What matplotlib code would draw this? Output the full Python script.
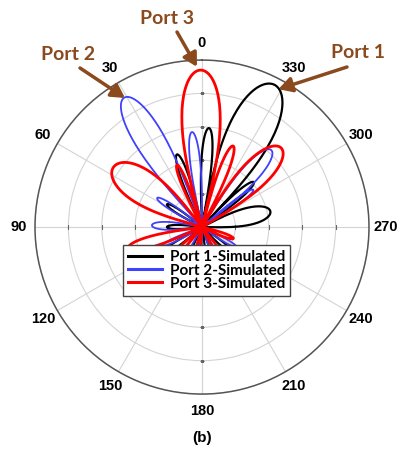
import numpy as np
import matplotlib
matplotlib.use('Agg')
import matplotlib.pyplot as plt

# lobe directions (deg), peak level (ring units, outer ring = 5) and null half-width (deg)
p1_dir = [333, 356, 19, 311, 283, 57, 90, 124, 160, 194, 230]
p1_peak = [4.78, 2.97, 2.3, 2.05, 2.1, 1.25, 1.05, 1.6, 1.3, 1.6, 1.2]
p1_width = [16, 6, 6, 6, 14, 6, 7, 6, 6, 6, 6]

p2_dir = [31, 6, 318, 306, 57, 88, 115, 145, 175, 205, 240]
p2_peak = [4.52, 2.86, 3.1, 1.9, 1.6, 1.5, 1.3, 1.6, 1.4, 1.7, 1.2]
p2_width = [11, 6, 10, 5, 6, 9, 5, 6, 5, 6, 5]

p3_dir = [0.5, 22, 56, 315, 339, 106, 136, 170, 213, 250]
p3_peak = [4.7, 2.0, 3.2, 3.35, 2.6, 2.3, 1.8, 2.0, 1.7, 1.0]
p3_width = [14, 5, 18, 14, 6, 8, 5, 6, 6, 6]

angle_ticks = list(range(0, 360, 30))
legend_labels = ['Port 1-Simulated', 'Port 2-Simulated', 'Port 3-Simulated']
brown = '#8A4A1E'


def lobe_curve(dirs, peaks, widths, k=0.42, n=80):
    th_all, r_all = [], []
    for d, p, w in sorted(zip(dirs, peaks, widths)):
        t = np.linspace(0, 1, n)
        th_all.append(np.radians(d - w + 2 * w * t))
        r_all.append(p * np.sin(np.pi * t) ** k)
    return np.concatenate(th_all), np.concatenate(r_all)


fig = plt.figure(figsize=(4.05, 4.54), dpi=100)
ax = fig.add_axes([0.0864, 0.132, 0.8247, 0.7357], projection='polar')
ax.set_theta_zero_location('N')
ax.set_theta_direction(1)
ax.set_ylim(0, 5)
ax.set_yticks([1, 2, 3, 4, 5])
ax.set_yticklabels([])
ax.set_thetagrids(angle_ticks, [str(a) for a in angle_ticks],
                  fontsize=10.5, fontweight='bold', family='Liberation Sans')
ax.tick_params(axis='x', pad=2, length=3, color='#555555')
ax.grid(color='#D4D4D4', lw=0.8)
ax.spines['polar'].set_color('#555555')
ax.spines['polar'].set_linewidth(1.1)

# small ticks on the main axes
for a in [0, 180]:
    ax.plot(np.radians([a] * 4), [1, 2, 3, 4], ls='none', marker='_', ms=3,
            color='#666666', mew=0.8)
for a in [90, 270]:
    ax.plot(np.radians([a] * 4), [1, 2, 3, 4], ls='none', marker='|', ms=3,
            color='#666666', mew=0.8)

th, r = lobe_curve(p1_dir, p1_peak, p1_width)
l1, = ax.plot(th, r, color='black', lw=1.6)
th, r = lobe_curve(p2_dir, p2_peak, p2_width)
l2, = ax.plot(th, r, color='#4040FF', lw=1.3)
th, r = lobe_curve(p3_dir, p3_peak, p3_width)
l3, = ax.plot(th, r, color='#FF0000', lw=2.0)

leg = fig.legend([l1, l2, l3], legend_labels, loc='upper left',
                 bbox_to_anchor=(123 / 405, 1 - 245 / 454), borderaxespad=0,
                 prop={'family': 'Lato', 'weight': 'bold', 'size': 11},
                 fancybox=False, framealpha=1, edgecolor='#444444',
                 handlelength=2.2, handletextpad=0.5, labelspacing=-0.05,
                 borderpad=0.35)
leg.get_frame().set_linewidth(1.0)
leg.set_zorder(10)
for h in leg.get_lines():
    h.set_linewidth(2.2)

# port labels with arrows
labels = [('Port 1', 358, 53, 347, 67, 331, 4.72),
          ('Port 2', 68, 55, 80, 68, 30.8, 4.5),
          ('Port 3', 167, 18, 177, 32, 1.8, 4.8)]
for txt, tx, ty, ax0, ay0, ath, ar in labels:
    fig.text(tx / 405, 1 - ty / 454, txt, color=brown, fontsize=14,
             fontweight='bold', family='Lato', ha='center', va='center')
    ax.annotate('', xy=(np.radians(ath), ar), xycoords='data',
                xytext=(ax0 / 405, 1 - ay0 / 454), textcoords='figure fraction',
                arrowprops=dict(arrowstyle='-|>,head_length=0.8,head_width=0.45',
                                lw=2.5, color=brown, shrinkA=0, shrinkB=0),
                annotation_clip=False)

fig.text(202 / 405, 1 - 438 / 454, '(b)', fontsize=11, fontweight='bold',
         family='Liberation Sans', ha='center', va='center')

fig.savefig('out.png', dpi=100)
